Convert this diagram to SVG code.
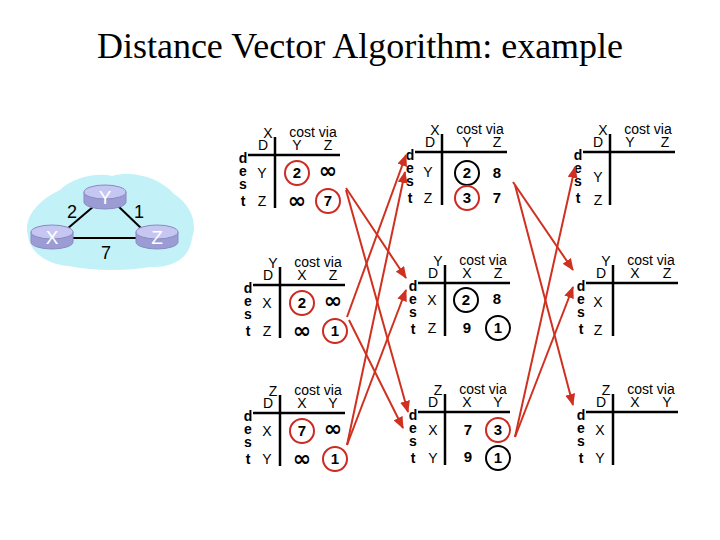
<svg xmlns="http://www.w3.org/2000/svg" width="720" height="540" viewBox="0 0 720 540">
<style>
.title{font-family:"Liberation Serif","Times New Roman",serif;font-size:36px;fill:#000}
.t{font-family:"Liberation Sans",Arial,sans-serif;font-size:14px;fill:#000;text-anchor:middle}
.hd{font-family:"Liberation Sans",Arial,sans-serif;font-size:14px;fill:#000;text-anchor:middle}
.v{font-family:"Liberation Sans",Arial,sans-serif;font-size:15px;font-weight:bold;fill:#000;text-anchor:middle}
.inf{font-family:"DejaVu Sans",sans-serif;font-size:22px;font-weight:bold;fill:#000;text-anchor:middle}
.ln{stroke:#000;stroke-width:2.5}
.cr{fill:none;stroke:#cc2a22;stroke-width:2}
.cb{fill:none;stroke:#000;stroke-width:2}
.arr{stroke:#d0301f;stroke-width:2;fill:none;marker-end:url(#ah)}
.link{stroke:#000;stroke-width:2}
.rl{font-family:"Liberation Sans",Arial,sans-serif;font-size:19px;fill:#fff;text-anchor:middle}
.wl{font-family:"Liberation Sans",Arial,sans-serif;font-size:18px;fill:#000;text-anchor:middle}
</style>
<defs>
<marker id="ah" viewBox="0 0 12 10" refX="11" refY="5" markerWidth="12" markerHeight="10" markerUnits="userSpaceOnUse" orient="auto">
<path d="M0,0 L12,5 L0,10 z" fill="#d0301f"/>
</marker>
<g id="router">
<path d="M-21,0 v10 a21,7 0 0 0 42,0 v-10 z" fill="#9c9cd4" stroke="#8a8ac0" stroke-width="1"/>
<ellipse cx="0" cy="0" rx="21" ry="7" fill="#c6c6f2" stroke="#8a8ac0" stroke-width="1"/>
</g>
<g id="grid">
<line class="ln" x1="0" y1="-18" x2="0" y2="53"/>
<line class="ln" x1="-27" y1="0" x2="65" y2="0"/>
<text class="t" x="38" y="-18">cost via</text>
<text class="t" x="-12" y="-5">D</text>
<text class="t" x="-32" y="8" font-weight="bold">d</text>
<text class="t" x="-32" y="21" font-weight="bold">e</text>
<text class="t" x="-32" y="34" font-weight="bold">s</text>
<text class="t" x="-32" y="51" font-weight="bold">t</text>
</g>
</defs>
<rect width="720" height="540" fill="#fff"/>
<text class="title" x="360" y="58" text-anchor="middle">Distance Vector Algorithm: example</text>

<g id="network">
<path d="M28,236 C22,216 42,198 60,190 C72,178 96,172 112,176 C134,170 160,178 174,194 C190,204 198,222 192,238 C190,256 176,268 150,267 C126,271 94,271 68,266 C46,264 30,252 28,236 z" fill="#c2f1f8"/>
</g>
<g id="links">
<line class="link" x1="67" y1="229" x2="94" y2="206"/>
<line class="link" x1="117" y1="205" x2="143" y2="230"/>
<line class="link" x1="72" y1="238" x2="138" y2="238"/>
<text class="wl" x="72" y="218">2</text>
<text class="wl" x="139" y="218">1</text>
<text class="wl" x="106" y="259">7</text>
</g>
<g id="router-Y"><use href="#router" x="105" y="192"/><text class="rl" x="105" y="204">Y</text></g>
<g id="router-X"><use href="#router" x="52" y="232"/><text class="rl" x="52" y="244">X</text></g>
<g id="router-Z"><use href="#router" x="157" y="232"/><text class="rl" x="157" y="244">Z</text></g>

<!-- Column 1 -->
<g id="x-t0" transform="translate(275,155)">
<use href="#grid"/>
<text class="t" x="-7" y="-17">X</text>
<text class="hd" x="22" y="-5">Y</text><text class="hd" x="53" y="-5">Z</text>
<text class="t" x="-13" y="23">Y</text><text class="t" x="-13" y="51">Z</text>
<circle class="cr" cx="22" cy="18" r="12"/><text class="v" x="22" y="23">2</text>
<text class="inf" x="53" y="23">∞</text>
<text class="inf" x="22" y="53">∞</text>
<circle class="cr" cx="53" cy="46" r="12"/><text class="v" x="53" y="51">7</text>
</g>
<g id="y-t0" transform="translate(280,285)">
<use href="#grid"/>
<text class="t" x="-7" y="-17">Y</text>
<text class="hd" x="22" y="-5">X</text><text class="hd" x="53" y="-5">Z</text>
<text class="t" x="-13" y="23">X</text><text class="t" x="-13" y="51">Z</text>
<circle class="cr" cx="22" cy="18" r="12"/><text class="v" x="22" y="23">2</text>
<text class="inf" x="53" y="23">∞</text>
<text class="inf" x="22" y="53">∞</text>
<circle class="cr" cx="55" cy="46" r="12"/><text class="v" x="55" y="51">1</text>
</g>
<g id="z-t0" transform="translate(280,413)">
<use href="#grid"/>
<text class="t" x="-7" y="-17">Z</text>
<text class="hd" x="22" y="-5">X</text><text class="hd" x="53" y="-5">Y</text>
<text class="t" x="-13" y="23">X</text><text class="t" x="-13" y="51">Y</text>
<circle class="cr" cx="22" cy="18" r="12"/><text class="v" x="22" y="23">7</text>
<text class="inf" x="53" y="23">∞</text>
<text class="inf" x="22" y="53">∞</text>
<circle class="cr" cx="55" cy="46" r="12"/><text class="v" x="55" y="51">1</text>
</g>

<!-- Column 2 -->
<g id="x-t1" transform="translate(442,152)">
<use href="#grid"/>
<text class="t" x="-7" y="-17">X</text>
<text class="hd" x="25" y="-5">Y</text><text class="hd" x="55" y="-5">Z</text>
<text class="t" x="-14" y="25">Y</text><text class="t" x="-14" y="51">Z</text>
<circle class="cb" cx="25" cy="21" r="12"/><text class="v" x="25" y="26">2</text>
<text class="v" x="55" y="26">8</text>
<circle class="cr" cx="25" cy="46" r="12"/><text class="v" x="25" y="51">3</text>
<text class="v" x="55" y="51">7</text>
</g>
<g id="y-t1" transform="translate(445,283)">
<use href="#grid"/>
<text class="t" x="-7" y="-17">Y</text>
<text class="hd" x="22" y="-5">X</text><text class="hd" x="53" y="-5">Z</text>
<text class="t" x="-13" y="22">X</text><text class="t" x="-13" y="50">Z</text>
<circle class="cb" cx="21" cy="17" r="12"/><text class="v" x="21" y="22">2</text>
<text class="v" x="52" y="21">8</text>
<text class="v" x="22" y="50">9</text>
<circle class="cb" cx="53" cy="45" r="12"/><text class="v" x="53" y="50">1</text>
</g>
<g id="z-t1" transform="translate(445,412)">
<use href="#grid"/>
<text class="t" x="-7" y="-17">Z</text>
<text class="hd" x="22" y="-5">X</text><text class="hd" x="53" y="-5">Y</text>
<text class="t" x="-12" y="23">X</text><text class="t" x="-12" y="51">Y</text>
<text class="v" x="23" y="23">7</text>
<circle class="cr" cx="53" cy="18" r="12"/><text class="v" x="53" y="23">3</text>
<text class="v" x="23" y="50">9</text>
<circle class="cb" cx="53" cy="46" r="12"/><text class="v" x="53" y="51">1</text>
</g>

<!-- Column 3 -->
<g id="x-t2" transform="translate(610,152)">
<use href="#grid"/>
<text class="t" x="-7" y="-17">X</text>
<text class="hd" x="20" y="-5">Y</text><text class="hd" x="55" y="-5">Z</text>
<text class="t" x="-12" y="30">Y</text><text class="t" x="-12" y="53">Z</text>
</g>
<g id="y-t2" transform="translate(613,283)">
<use href="#grid"/>
<text class="t" x="-7" y="-17">Y</text>
<text class="hd" x="22" y="-5">X</text><text class="hd" x="54" y="-5">Z</text>
<text class="t" x="-15" y="24">X</text><text class="t" x="-15" y="52">Z</text>
</g>
<g id="z-t2" transform="translate(613,412)">
<use href="#grid"/>
<text class="t" x="-7" y="-17">Z</text>
<text class="hd" x="22" y="-5">X</text><text class="hd" x="54" y="-5">Y</text>
<text class="t" x="-13" y="23">X</text><text class="t" x="-13" y="51">Y</text>
</g>

<g id="connectors">
<line class="arr" x1="346" y1="188" x2="406" y2="278"/>
<line class="arr" x1="346" y1="190" x2="408" y2="412"/>
<line class="arr" x1="347" y1="317" x2="406" y2="155"/>
<line class="arr" x1="349" y1="320" x2="403" y2="428"/>
<line class="arr" x1="347" y1="445" x2="405" y2="172"/>
<line class="arr" x1="347" y1="445" x2="406" y2="290"/>
<line class="arr" x1="513" y1="182" x2="573" y2="270"/>
<line class="arr" x1="515" y1="185" x2="573" y2="405"/>
<line class="arr" x1="515" y1="437" x2="575" y2="167"/>
<line class="arr" x1="515" y1="437" x2="573" y2="287"/>
</g>
</svg>
